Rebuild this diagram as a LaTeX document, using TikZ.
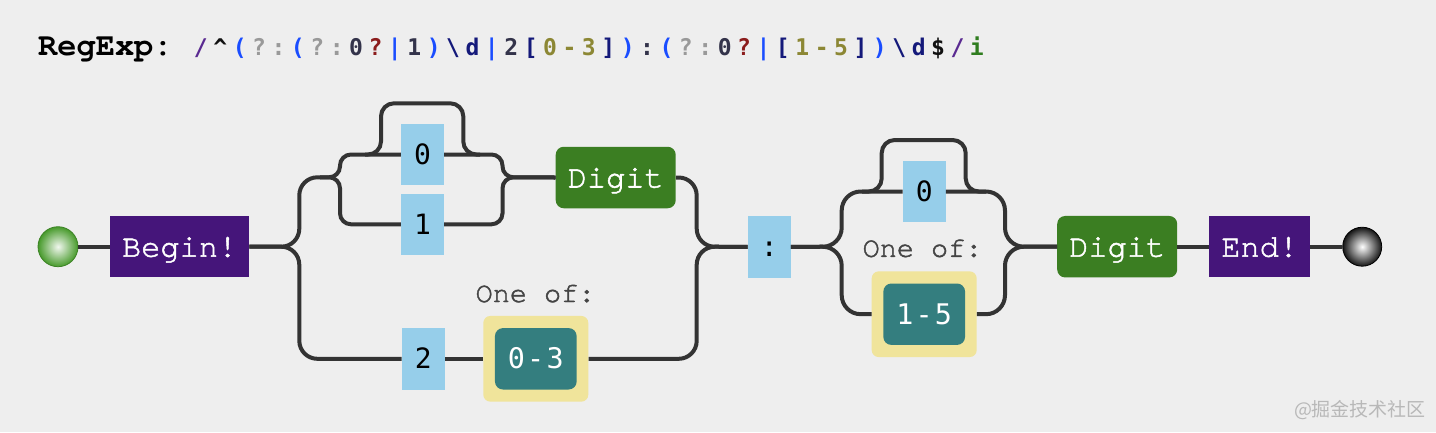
\documentclass[tikz,border=0pt]{standalone}
\usepackage{fontspec}
\setmonofont{TeX Gyre Cursor}
\newfontfamily\boxfont[FakeBold=1.6]{TeX Gyre Cursor}
\newfontfamily\litfont{DejaVu Sans Mono}
\newfontfamily\cjkfont{Noto Sans CJK SC}
\usepackage{tikz}
\usetikzlibrary{shapes,positioning,calc}

\definecolor{bgcol}{HTML}{EEEEEE}
\definecolor{railcol}{HTML}{333333}
\definecolor{anchorpurple}{HTML}{45157A}
\definecolor{digitgreen}{HTML}{3B7E22}
\definecolor{charblue}{HTML}{96CEEA}
\definecolor{setyellow}{HTML}{F0E49B}
\definecolor{rangeteal}{HTML}{347E7F}
\definecolor{labelgray}{HTML}{444444}
\definecolor{ballgreen}{HTML}{479A2B}
% regex colours
\definecolor{rxslash}{HTML}{5A2A91}
\definecolor{rxdark}{HTML}{111111}
\definecolor{rxblue}{HTML}{1A4DFF}
\definecolor{rxgray}{HTML}{999999}
\definecolor{rxlit}{HTML}{33334A}
\definecolor{rxred}{HTML}{8B1C1C}
\definecolor{rxnavy}{HTML}{14197A}
\definecolor{rxolive}{HTML}{8C8734}
\definecolor{rxgreen}{HTML}{2F7D1F}

% one monospaced cell of the title
\newcommand{\rc}[2]{\makebox[19.4pt]{\textcolor{#1}{#2}}}
% one cell of a range label
\newcommand{\rcell}[1]{\makebox[19.3pt]{#1}}

\tikzstyle{rail}     =[line width=4pt, draw=railcol]
\tikzstyle{anchorbox}=[rectangle, fill=anchorpurple, text=white, inner xsep=12pt, inner ysep=0pt,
                       minimum height=61.5pt, text height=20pt, text depth=0pt,
                       font=\boxfont\fontsize{32}{36}\selectfont]
\tikzstyle{classbox} =[anchorbox, fill=digitgreen, rounded corners=8pt]
\tikzstyle{charbox}  =[rectangle, fill=charblue, inner sep=0pt, minimum width=43pt, minimum height=61.5pt,
                       text height=20pt, text depth=0pt, font=\litfont\fontsize{28}{32}\selectfont]
\tikzstyle{setbox}   =[rectangle, fill=setyellow, rounded corners=7pt, minimum width=105pt, minimum height=85.7pt]
\tikzstyle{rangebox} =[rectangle, fill=rangeteal, text=white, rounded corners=8pt, inner sep=0pt,
                       minimum width=81.7pt, minimum height=61.4pt, text height=20pt, text depth=0pt,
                       font=\litfont\fontsize{28.4}{32}\selectfont]
\tikzstyle{setlabel} =[text=labelgray, inner sep=0pt, text height=17pt, text depth=0pt,
                       font=\boxfont\fontsize{28.5}{32}\selectfont]

\begin{document}
\begin{tikzpicture}[x=1pt, y=-1pt]

  \fill[bgcol] (0,0) rectangle (1436,432);
  \useasboundingbox (0,0) rectangle (1436,432);

  % ── title ─────────────────────────────────────────────────────────────────
  \node[anchor=base west, inner sep=0pt, font=\ttfamily\bfseries\fontsize{32}{36}\selectfont]
        (label) at (38,55) {RegExp:};
  \node[anchor=base west, inner sep=0pt, font=\litfont\bfseries\fontsize{23}{28}\selectfont]
        (regex) at (191,55) {\rc{rxslash}{/}\rc{rxdark}{\textasciicircum}%
\rc{rxblue}{(}\rc{rxgray}{?}\rc{rxgray}{:}\rc{rxblue}{(}\rc{rxgray}{?}\rc{rxgray}{:}%
\rc{rxlit}{0}\rc{rxred}{?}\rc{rxblue}{|}\rc{rxlit}{1}\rc{rxblue}{)}%
\rc{rxnavy}{\textbackslash}\rc{rxnavy}{d}\rc{rxblue}{|}\rc{rxlit}{2}\rc{rxnavy}{[}%
\rc{rxolive}{0}\rc{rxolive}{-}\rc{rxolive}{3}\rc{rxnavy}{]}\rc{rxblue}{)}\rc{rxlit}{:}%
\rc{rxblue}{(}\rc{rxgray}{?}\rc{rxgray}{:}\rc{rxlit}{0}\rc{rxred}{?}\rc{rxblue}{|}%
\rc{rxnavy}{[}\rc{rxolive}{1}\rc{rxolive}{-}\rc{rxolive}{5}\rc{rxnavy}{]}\rc{rxblue}{)}%
\rc{rxnavy}{\textbackslash}\rc{rxnavy}{d}\rc{rxdark}{\$}\rc{rxslash}{/}\rc{rxgreen}{i}};

  % ── nodes ─────────────────────────────────────────────────────────────────
  \node[circle, minimum size=40pt, inner sep=0pt, inner color=ballgreen!8!white, outer color=ballgreen,
        draw=ballgreen!85!black, line width=0.8pt] (start) at (58,246.7) {};
  \node[anchorbox] (begin) at (179.6,246.7) {Begin!};

  \node[charbox] (zero1) at (422.5,154.5) {0};
  \node[charbox] (one1)  at (422.5,224.3) {1};
  \node[classbox] (digit1) at (615.7,177.5) {Digit};

  \node[charbox] (two) at (423.3,358.8) {2};
  \node[setlabel] (oneof1) at (535.5,293.5) {One of:};
  \node[setbox]   (set1) at (535.8,358.8) {};
  \node[rangebox] (rng1) at (535.8,358.8) {\rcell{0}\rcell{-}\rcell{3}};

  \node[charbox] (colon) at (769.2,246.8) {:};

  \node[charbox] (zero2) at (924.2,191.5) {0};
  \node[setlabel] (oneof2) at (922.5,248.3) {One of:};
  \node[setbox]   (set2) at (924.2,314.2) {};
  \node[rangebox] (rng2) at (924.2,314.2) {\rcell{1}\rcell{-}\rcell{5}};

  \node[classbox] (digit2) at (1117.2,246.7) {Digit};
  \node[anchorbox] (end) at (1259.7,246.7) {End!};
  \node[circle, minimum size=39pt, inner sep=0pt, inner color=white, outer color=black!92,
        draw=black, line width=0.8pt] (finish) at (1362.2,246.7) {};

  \node[inner sep=0pt, text=black!28, font=\cjkfont\fontsize{19}{22}\selectfont]
        (mark) at (1360,410) {@掘金技术社区};

  % ── junctions ─────────────────────────────────────────────────────────────
  \coordinate (j1) at (299.3,246.7);
  \coordinate (g1in) at (320,177.3);
  \coordinate (j2) at (340,177.3);
  \coordinate (j3) at (502.5,177.3);
  \coordinate (j4) at (696.7,246.7);
  \coordinate (j5) at (841.7,246.7);
  \coordinate (j6) at (1005,246.7);
  \coordinate (skip1a) at (365,154.5);   \coordinate (skip1b) at (480,154.5);
  \coordinate (skip1l) at (381,103.3);   \coordinate (skip1r) at (463.3,103.3);
  \coordinate (skip2a) at (862,191.5);   \coordinate (skip2b) at (986,191.5);
  \coordinate (skip2l) at (881.7,140);   \coordinate (skip2r) at (965.7,140);

  % ── rails ─────────────────────────────────────────────────────────────────
  \draw[rail] (start) -- (begin);
  \draw[rail, rounded corners=18pt] (begin.east) -- (j1) |- (g1in);
  \draw[rail, rounded corners=18pt] (begin.east) -- (j1) |- (two.west);
  \draw[rail, rounded corners=11pt] (g1in) -- (j2) |- (zero1.west);
  \draw[rail, rounded corners=11pt] (g1in) -- (j2) |- (one1.west);
  \draw[rail, rounded corners=13pt] (skip1a) -| (skip1l) -- (skip1r) |- (skip1b);
  \draw[rail, rounded corners=11pt] (zero1.east) -| (j3) -- (digit1.west);
  \draw[rail, rounded corners=11pt] (one1.east) -| (j3) -- (digit1.west);
  \draw[rail] (two) -- (set1);
  \draw[rail, rounded corners=18pt] (digit1.east) -| (j4) -- (colon.west);
  \draw[rail, rounded corners=18pt] (set1.east) -| (j4) -- (colon.west);
  \draw[rail, rounded corners=19pt] (colon.east) -- (j5) |- (zero2.west);
  \draw[rail, rounded corners=19pt] (colon.east) -- (j5) |- (set2.west);
  \draw[rail, rounded corners=13pt] (skip2a) -| (skip2l) -- (skip2r) |- (skip2b);
  \draw[rail, rounded corners=19pt] (zero2.east) -| (j6) -- (digit2.west);
  \draw[rail, rounded corners=19pt] (set2.east) -| (j6) -- (digit2.west);
  \draw[rail] (digit2) -- (end);
  \draw[rail] (end) -- (finish);

\end{tikzpicture}
\end{document}
